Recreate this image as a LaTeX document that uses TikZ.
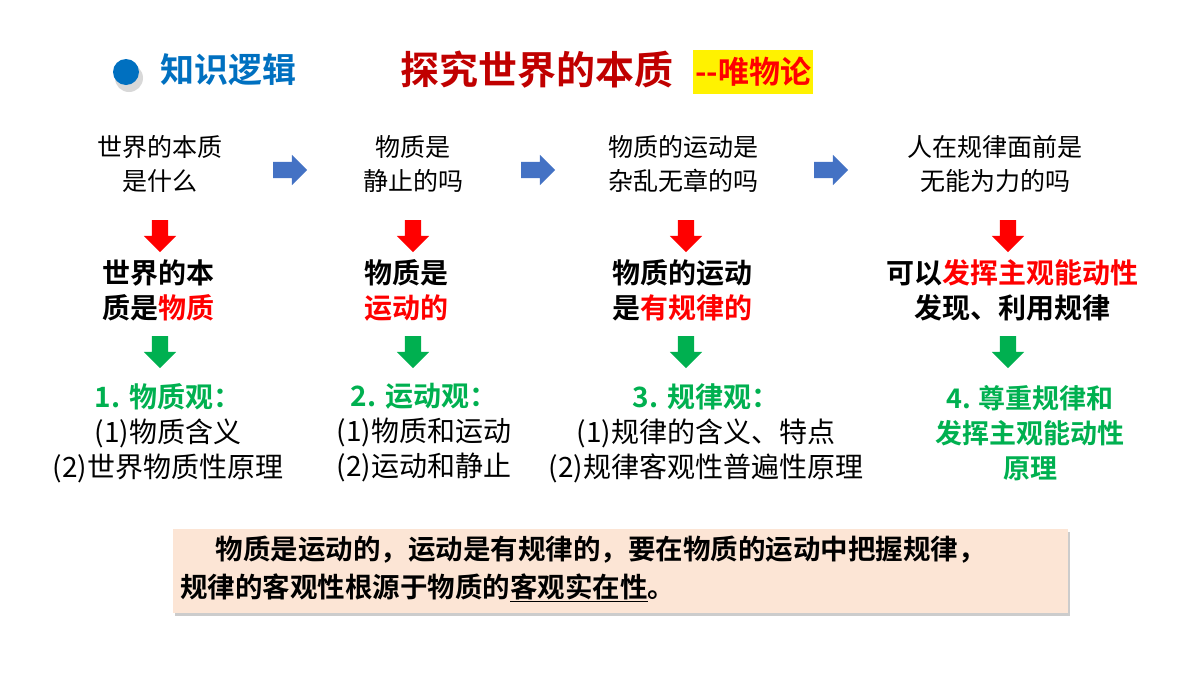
\documentclass[tikz,border=0pt]{standalone}
\usepackage{fontspec}
\setmainfont{Noto Sans CJK SC}
\newfontfamily\cjkb{Noto Sans CJK SC Bold}
\usetikzlibrary{shapes.arrows,shadows,positioning}
\definecolor{titleblue}{RGB}{0,112,192}
\definecolor{titlered}{RGB}{192,0,0}
\definecolor{okgreen}{RGB}{0,176,80}
\definecolor{arrowblue}{RGB}{68,114,196}
\definecolor{boxfill}{RGB}{252,229,213}
\tikzset{
  qtext/.style={align=center,font=\fontsize{25}{34}\selectfont,inner sep=0pt},
  atext/.style={align=center,font=\cjkb\fontsize{28}{35}\selectfont,inner sep=0pt},
  ptext/.style={align=center,font=\fontsize{28}{35}\selectfont,inner sep=0pt},
  downarrow/.style={single arrow,shape border rotate=270,minimum width=32,minimum height=32,single arrow head extend=8,inner sep=8,draw=none,fill=#1},
  rightarrow/.style={single arrow,minimum width=30,minimum height=34,single arrow head extend=7,inner sep=8,draw=none,fill=arrowblue}
}
\begin{document}
\begin{tikzpicture}[x=1pt,y=1pt,yscale=-1]
\useasboundingbox (0,0) rectangle (1200,675);

% header
\fill[gray!60,opacity=0.5] (129,78) circle (14);
\fill[titleblue] (126,72) circle (13);
\node[anchor=west,text=titleblue,font=\cjkb\fontsize{34}{34}\selectfont,inner sep=0pt] (logic) at (160,70) {知识逻辑};
\node[anchor=west,text=titlered,font=\cjkb\fontsize{39}{39}\selectfont,inner sep=0pt] (title) at (400,70) {探究世界的本质};
\node[anchor=west,fill=yellow,text=red,font=\cjkb\fontsize{31}{31}\selectfont,inner ysep=7pt,inner xsep=2pt] (sub) at (693,72) {--唯物论};

% questions
\node[qtext] (q1) at (160,164) {世界的本质\\是什么};
\node[qtext] (q2) at (413,164) {物质是\\静止的吗};
\node[qtext] (q3) at (683,164) {物质的运动是\\杂乱无章的吗};
\node[qtext] (q4) at (995,164) {人在规律面前是\\无能为力的吗};

\node[rightarrow] (r1) at (286,170) {};
\node[rightarrow] (r2) at (534,170) {};
\node[rightarrow] (r3) at (827,170) {};

% answers
\foreach \i/\x in {1/160,2/413,3/686,4/1008}{
  \node[downarrow=red] (d\i) at (\x,232) {};
  \node[downarrow=okgreen] (g\i) at (\x,348) {};
}
\node[atext] (a1) at (158,290) {世界的本\\质是\textcolor{red}{物质}};
\node[atext] (a2) at (406,290) {物质是\\\textcolor{red}{运动的}};
\node[atext] (a3) at (682,290) {物质的运动\\是\textcolor{red}{有规律的}};
\node[atext] (a4) at (1012,290) {可以\textcolor{red}{发挥主观能动性}\\发现、利用规律};

% principles
\node[ptext] (p1) at (168,433) {{\cjkb\color{okgreen}1. 物质观：}\\(1)物质含义\\(2)世界物质性原理};
\node[ptext] (p2) at (424,433) {{\cjkb\color{okgreen}2. 运动观：}\\(1)物质和运动\\(2)运动和静止};
\node[ptext] (p3) at (706,433) {{\cjkb\color{okgreen}3. 规律观：}\\(1)规律的含义、特点\\(2)规律客观性普遍性原理};
\node[ptext,font=\cjkb\fontsize{27}{35}\selectfont,text=okgreen] (p4) at (1030,433) {4. 尊重规律和\\发挥主观能动性\\原理};

% summary
\node[fill=boxfill,drop shadow={shadow xshift=2pt,shadow yshift=-3pt,opacity=0.4},minimum width=895,minimum height=84,inner sep=0pt] (sumbox) at (620,571) {};
\node[anchor=north west,align=left,font=\cjkb\fontsize{27.5}{38}\selectfont,inner sep=0pt] (sum) at (180,536) {\hspace{1.3em}物质是运动的，运动是有规律的，要在物质的运动中把握规律，\\规律的客观性根源于物质的\underline{客观实在性}。};

\end{tikzpicture}
\end{document}
